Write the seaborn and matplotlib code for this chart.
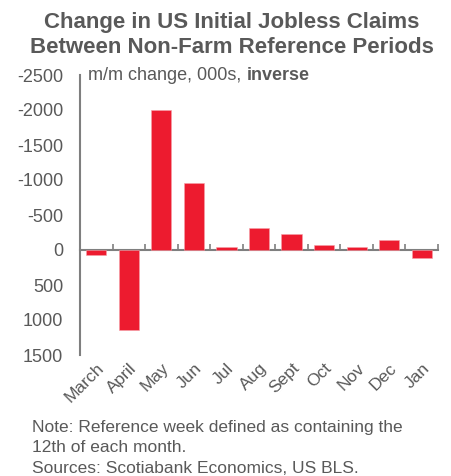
import matplotlib
matplotlib.use("Agg")
import matplotlib.pyplot as plt
import seaborn as sns
import pandas as pd
import numpy as np

# Month-over-month change in initial jobless claims (thousands)
months = ["March", "April", "May", "Jun", "Jul", "Aug", "Sept", "Oct", "Nov", "Dec", "Jan"]
change = [65, 1145, -1995, -960, -50, -320, -230, -70, -50, -140, 110]

y_ticks = [-2500, -2000, -1500, -1000, -500, 0, 500, 1000, 1500]

title = "Change in US Initial Jobless Claims\nBetween Non-Farm Reference Periods"
unit_label = "m/m change, 000s, "
unit_bold = "inverse"
footer = ("Note: Reference week defined as containing the\n"
          "12th of each month.\n"
          "Sources: Scotiabank Economics, US BLS.")

BAR = "#ED1B2F"
GREY = "#595959"
AXIS = "#7F7F7F"

sns.set_theme(style="white")
plt.rcParams["font.family"] = ["Liberation Sans", "DejaVu Sans"]

df = pd.DataFrame({"month": months, "change": change})

fig = plt.figure(figsize=(4.52, 4.76), dpi=100)
ax = fig.add_axes([80 / 452, 1 - 355 / 476, (438 - 80) / 452, (355 - 75) / 476])

sns.barplot(data=df, x="month", y="change", color=BAR, width=0.62,
            saturation=1, edgecolor="#F6A0A8", linewidth=0.4, ax=ax)

ax.set_xlim(-0.5, len(months) - 0.5)
ax.set_ylim(y_ticks[-1], y_ticks[0])  # inverted scale
ax.set_yticks(y_ticks)
ax.set_yticklabels([str(v) for v in y_ticks])
ax.tick_params(axis="y", direction="in", length=4, width=1.2, color=AXIS,
               labelsize=13, labelcolor=GREY, pad=12)
ax.set_xlabel("")
ax.set_ylabel("")

for side in ("top", "right", "bottom"):
    ax.spines[side].set_visible(False)
ax.spines["left"].set_color(AXIS)
ax.spines["left"].set_linewidth(1.5)

# month labels along the bottom edge
ax.set_xticks(range(len(months)))
ax.set_xticklabels(months, rotation=45, ha="right", rotation_mode="anchor")
ax.tick_params(axis="x", length=0, labelsize=12.5, labelcolor=GREY, pad=4)

# zero line with tick marks between categories
y0, y1 = ax.get_ylim()
zero_frac = (0 - y0) / (y1 - y0)
zero_axis = ax.secondary_xaxis(zero_frac)
zero_axis.set_xticks(np.arange(len(months) + 1) - 0.5)
zero_axis.tick_params(axis="x", direction="in", length=4, width=1.2,
                      color=AXIS, labelbottom=False, labeltop=False)
zero_axis.spines["bottom"].set_color(AXIS)
zero_axis.spines["bottom"].set_linewidth(1.5)
for side in ("top", "left", "right"):
    zero_axis.spines[side].set_visible(False)

# unit label inside the plot area
t1 = ax.text(88 / 452, 1 - 76 / 476, unit_label, transform=fig.transFigure,
             fontsize=13, color=GREY, va="center", ha="left")
ax.annotate(unit_bold, xy=(1, 0), xycoords=t1, va="bottom", ha="left",
            fontsize=13, color=GREY, fontweight="bold")

fig.text(232 / 452, 1 - 35 / 476, title, ha="center", va="center",
         fontsize=16, fontweight="bold", color=GREY, linespacing=1.25)

fig.text(32 / 452, 1 - 448 / 476, footer, ha="left", va="center",
         fontsize=12.5, color=GREY, linespacing=1.42)

fig.savefig("out.png", dpi=100)
